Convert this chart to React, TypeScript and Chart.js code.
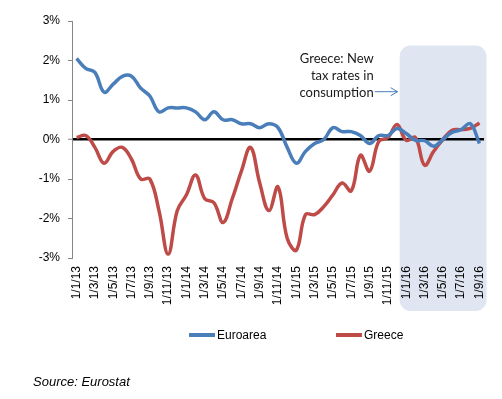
import React, { useEffect, useRef } from "react";
import { Chart, registerables } from "chart.js";

Chart.register(...registerables);

// Monthly categories (d/m/yy), Jan 2013 – Sep 2016
const categories: string[] = [
  "1/1/13", "1/2/13", "1/3/13", "1/4/13", "1/5/13", "1/6/13", "1/7/13", "1/8/13", "1/9/13", "1/10/13", "1/11/13", "1/12/13",
  "1/1/14", "1/2/14", "1/3/14", "1/4/14", "1/5/14", "1/6/14", "1/7/14", "1/8/14", "1/9/14", "1/10/14", "1/11/14", "1/12/14",
  "1/1/15", "1/2/15", "1/3/15", "1/4/15", "1/5/15", "1/6/15", "1/7/15", "1/8/15", "1/9/15", "1/10/15", "1/11/15", "1/12/15",
  "1/1/16", "1/2/16", "1/3/16", "1/4/16", "1/5/16", "1/6/16", "1/7/16", "1/8/16", "1/9/16",
];

// Annual inflation, %
const euroarea: number[] = [
  2.05, 1.8, 1.7, 1.2, 1.4, 1.6, 1.6, 1.3, 1.1, 0.7, 0.8, 0.8,
  0.8, 0.7, 0.5, 0.7, 0.5, 0.5, 0.4, 0.4, 0.3, 0.4, 0.3, -0.2,
  -0.6, -0.3, -0.1, 0.0, 0.3, 0.2, 0.2, 0.1, -0.1, 0.1, 0.1, 0.28,
  0.15, -0.02, -0.03, -0.17, 0.0, 0.18, 0.25, 0.4, -0.1,
];

const greece: number[] = [
  0.05, 0.1, -0.2, -0.6, -0.3, -0.2, -0.5, -1.0, -1.0, -1.8, -2.9, -1.8,
  -1.4, -0.9, -1.5, -1.6, -2.1, -1.5, -0.8, -0.2, -1.1, -1.8, -1.2, -2.5,
  -2.8, -1.9, -1.9, -1.7, -1.4, -1.1, -1.3, -0.4, -0.8, -0.05, 0.05, 0.38,
  -0.02, 0.05, -0.65, -0.3, 0.0, 0.23, 0.25, 0.28, 0.42,
];

const seriesNames = ["Euroarea", "Greece"];
const seriesColors = ["#4a7ebb", "#be4b48"];

const yMin = -3;
const yMax = 3;
const yStep = 1;

const shadeFrom = "1/1/16";
const shadeTopValue = 2.38;
const noteLines = ["Greece: New", "tax rates in", "consumption"];
const sourceText = "Source: Eurostat";

const shadePlugin = {
  id: "shadeBox",
  beforeDraw(chart: any) {
    const { ctx, chartArea, scales } = chart;
    const x = scales.x;
    const y = scales.y;
    const i = categories.indexOf(shadeFrom);
    const left = (x.getPixelForValue(i - 1) + x.getPixelForValue(i)) / 2 - 2;
    const right = chartArea.right + 2.5;
    const top = y.getPixelForValue(shadeTopValue);
    const bottom = chartArea.bottom + 53;
    ctx.save();
    ctx.fillStyle = "#dfe6f2";
    ctx.beginPath();
    (ctx as any).roundRect(left, top, right - left, bottom - top, 11);
    ctx.fill();
    ctx.restore();
  },
  afterDatasetsDraw(chart: any) {
    const { ctx, scales } = chart;
    const x = scales.x;
    const i = categories.indexOf(shadeFrom);
    const boxLeft = (x.getPixelForValue(i - 1) + x.getPixelForValue(i)) / 2 - 2;
    const textRight = boxLeft - 26;
    const base0 = 63.3;
    const lh = 16.7;
    ctx.save();
    ctx.font = '13px Lato, "Noto Sans", sans-serif';
    ctx.fillStyle = "#1a1a1a";
    ctx.textAlign = "right";
    ctx.textBaseline = "alphabetic";
    noteLines.forEach((t, k) => ctx.fillText(t, textRight, base0 + k * lh));
    // arrow
    const ay = base0 + 2 * lh - 5;
    const ax0 = textRight + 1;
    const ax1 = boxLeft - 2;
    ctx.strokeStyle = "#4a7ebb";
    ctx.lineWidth = 1;
    ctx.beginPath();
    ctx.moveTo(ax0, ay);
    ctx.lineTo(ax1, ay);
    ctx.moveTo(ax1 - 7, ay - 4);
    ctx.lineTo(ax1, ay);
    ctx.lineTo(ax1 - 7, ay + 4);
    ctx.stroke();
    ctx.restore();
  },
  afterDraw(chart: any) {
    const { ctx, chartArea } = chart;
    const ly = chartArea.bottom + 77;
    const starts = [chartArea.left + 117, chartArea.left + 264];
    ctx.save();
    ctx.font = '12px "Liberation Sans", Arial, sans-serif';
    ctx.textBaseline = "middle";
    ctx.textAlign = "left";
    seriesNames.forEach((name, k) => {
      const sx = starts[k];
      ctx.fillStyle = seriesColors[k];
      ctx.fillRect(sx, ly - 2, 26, 4);
      ctx.fillStyle = "#000";
      ctx.fillText(name, sx + 28, ly + 1);
    });
    ctx.restore();
  },
};

export default function App() {
  const canvasRef = useRef<HTMLCanvasElement | null>(null);

  useEffect(() => {
    const canvas = canvasRef.current;
    if (!canvas) return;
    const chart = new Chart(canvas, {
      type: "line",
      data: {
        labels: categories,
        datasets: [
          {
            label: seriesNames[0],
            data: euroarea,
            borderColor: seriesColors[0],
            backgroundColor: seriesColors[0],
            borderWidth: 3.5,
            pointRadius: 0,
            tension: 0.4,
            fill: false,
          },
          {
            label: seriesNames[1],
            data: greece,
            borderColor: seriesColors[1],
            backgroundColor: seriesColors[1],
            borderWidth: 3.5,
            pointRadius: 0,
            tension: 0.4,
            fill: false,
          },
        ],
      },
      options: {
        responsive: false,
        animation: false,
        devicePixelRatio: 1,
        layout: { padding: { top: 21, right: 12, left: 0, bottom: 0 } },
        plugins: {
          legend: { display: false },
          tooltip: { enabled: false },
        },
        scales: {
          x: {
            type: "category",
            offset: true,
            grid: { display: false, drawTicks: false },
            border: { display: false },
            ticks: {
              autoSkip: false,
              minRotation: 90,
              maxRotation: 90,
              padding: 8,
              color: "#000",
              font: { family: '"Liberation Sans", Arial, sans-serif', size: 12 },
              callback: (_v: any, idx: number) => (idx % 2 === 0 ? categories[idx] : ""),
            },
            afterFit: (scale: any) => {
              scale.height = 141;
            },
          },
          y: {
            min: yMin,
            max: yMax,
            ticks: {
              stepSize: yStep,
              padding: 8,
              color: "#000",
              font: { family: '"Liberation Sans", Arial, sans-serif', size: 12 },
              callback: (v: any) => `${v}%`,
            },
            grid: {
              drawTicks: true,
              tickLength: 4,
              tickColor: "#868686",
              tickWidth: 1,
              color: (c: any) => (c.tick && c.tick.value === 0 ? "#000" : "rgba(0,0,0,0)"),
              lineWidth: (c: any) => (c.tick && c.tick.value === 0 ? 2.5 : 1),
            },
            border: { display: true, color: "#868686", width: 1 },
            afterFit: (scale: any) => {
              scale.width = 72;
            },
          },
        },
      },
      plugins: [shadePlugin],
    });
    return () => chart.destroy();
  }, []);

  return (
    <div style={{ position: "absolute", left: 0, top: 0, width: 502, height: 399, background: "#fff" }}>
      <canvas ref={canvasRef} width={502} height={399} style={{ display: "block" }} />
      <div
        style={{
          position: "absolute",
          left: 33,
          top: 374,
          fontFamily: '"Liberation Sans", Arial, sans-serif',
          fontStyle: "italic",
          fontSize: 13,
          lineHeight: "16px",
          color: "#000",
          whiteSpace: "nowrap",
        }}
      >
        {sourceText}
      </div>
    </div>
  );
}
